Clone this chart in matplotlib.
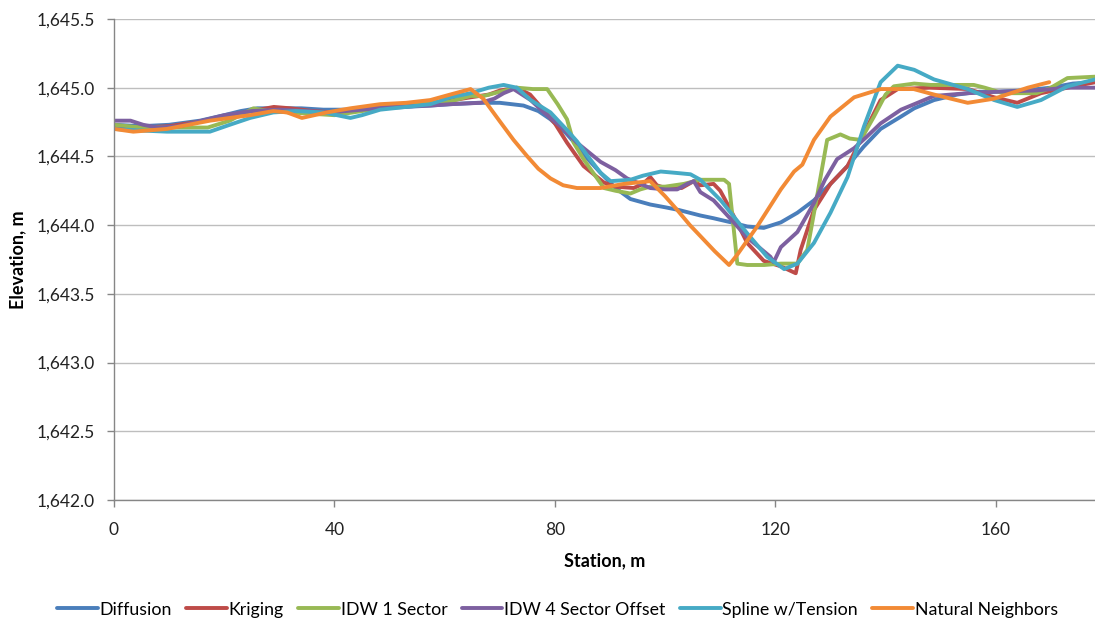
import matplotlib
matplotlib.use("Agg")
import matplotlib.pyplot as plt
from matplotlib.ticker import FuncFormatter, MultipleLocator

plt.rcParams['font.family'] = ['Lato', 'DejaVu Sans']

# station (m) / elevation (m) profiles for each interpolation method
diffusion_x = [0, 5, 10, 15.6, 20, 23, 26, 30, 34, 38, 43, 48, 53, 57.4, 61, 66, 70, 74.3, 77,
               79.2, 82, 84, 86, 88.3, 91, 93.7, 97.3, 100, 102.5, 106.4, 108.8, 112, 114.9,
               117.9, 121, 124, 127, 130, 133.1, 136, 139.1, 142.8, 145.2, 148.8, 153, 157,
               160, 165, 170, 174, 178]
diffusion_y = [1644.73, 1644.72, 1644.73, 1644.76, 1644.80, 1644.83, 1644.85, 1644.85, 1644.85,
               1644.84, 1644.84, 1644.85, 1644.86, 1644.87, 1644.88, 1644.89, 1644.89, 1644.87,
               1644.83, 1644.77, 1644.67, 1644.58, 1644.48, 1644.38, 1644.27, 1644.19, 1644.15,
               1644.13, 1644.11, 1644.07, 1644.05, 1644.02, 1643.99, 1643.98, 1644.02, 1644.09,
               1644.18, 1644.30, 1644.43, 1644.57, 1644.70, 1644.79, 1644.85, 1644.91, 1644.95,
               1644.97, 1644.97, 1644.98, 1645.00, 1645.03, 1645.04]

kriging_x = [0, 5, 10, 15, 20, 25, 29, 32, 36, 40, 45, 50, 55, 60, 64.7, 68, 70.1, 73.1, 75.5,
             77.9, 80, 82.2, 85.2, 88.9, 91, 94.3, 96, 97.3, 98.5, 100, 103, 105.2, 106.4,
             108.8, 110, 111.9, 114.9, 117.9, 121, 123.7, 124.6, 127, 130, 133.1, 136.1,
             139.1, 142.2, 148, 155, 159.7, 163.9, 168.2, 173, 178]
kriging_y = [1644.71, 1644.71, 1644.72, 1644.75, 1644.79, 1644.83, 1644.86, 1644.85, 1644.83,
             1644.82, 1644.85, 1644.87, 1644.88, 1644.90, 1644.93, 1644.95, 1644.98, 1645.00,
             1644.95, 1644.84, 1644.74, 1644.60, 1644.43, 1644.31, 1644.28, 1644.27, 1644.30,
             1644.35, 1644.29, 1644.27, 1644.27, 1644.32, 1644.29, 1644.30, 1644.25, 1644.11,
             1643.87, 1643.74, 1643.70, 1643.65, 1643.82, 1644.11, 1644.30, 1644.43, 1644.67,
             1644.91, 1644.99, 1645.00, 1644.99, 1644.93, 1644.89, 1644.96, 1645.00, 1645.04]

idw1_x = [0, 5, 10, 17, 21, 25.3, 28, 32, 36, 40, 45, 50, 55, 61, 64.7, 67.1, 70, 73.1, 76,
          78.6, 80.5, 82.2, 83.4, 85.2, 88.9, 91, 93.7, 95.5, 97.3, 100, 103.4, 106.4, 108.5,
          110.7, 111.6, 113.1, 114.9, 118, 121, 124, 125.8, 128.2, 129.4, 131.8, 133.5, 135.5,
          137.9, 140, 141.5, 145.2, 148.2, 156, 158, 161.3, 167.4, 170, 173, 178]
idw1_y = [1644.73, 1644.71, 1644.71, 1644.71, 1644.76, 1644.85, 1644.83, 1644.82, 1644.81,
          1644.80, 1644.83, 1644.86, 1644.88, 1644.90, 1644.94, 1644.94, 1644.97, 1645.00,
          1644.99, 1644.99, 1644.88, 1644.77, 1644.60, 1644.48, 1644.27, 1644.25, 1644.23,
          1644.26, 1644.28, 1644.28, 1644.30, 1644.33, 1644.33, 1644.33, 1644.30, 1643.72,
          1643.71, 1643.71, 1643.72, 1643.72, 1643.82, 1644.35, 1644.62, 1644.66, 1644.63,
          1644.62, 1644.79, 1644.95, 1645.01, 1645.03, 1645.02, 1645.02, 1645.00, 1644.96,
          1644.96, 1645.00, 1645.07, 1645.08]

idw4_x = [0, 3, 5.3, 8, 12, 16, 20, 25, 30, 35, 39, 45, 50, 57.4, 61, 66.5, 69, 70.7, 72.5,
          75.6, 78, 81, 84, 88.3, 91, 93.1, 97.3, 100, 102.2, 104, 105.2, 106.4, 108.8, 112,
          114.9, 117, 119.1, 119.7, 121, 124, 127, 129, 131.2, 134.3, 136.5, 139.1, 142.8,
          145.2, 148.8, 154.9, 160, 167.4, 173, 178]
idw4_y = [1644.76, 1644.76, 1644.73, 1644.71, 1644.72, 1644.76, 1644.80, 1644.83, 1644.84,
          1644.83, 1644.82, 1644.84, 1644.86, 1644.87, 1644.88, 1644.89, 1644.92, 1644.96,
          1644.99, 1644.91, 1644.82, 1644.72, 1644.60, 1644.46, 1644.40, 1644.34, 1644.27,
          1644.26, 1644.26, 1644.30, 1644.32, 1644.24, 1644.18, 1644.04, 1643.91, 1643.84,
          1643.77, 1643.73, 1643.84, 1643.95, 1644.16, 1644.33, 1644.48, 1644.56, 1644.64,
          1644.74, 1644.84, 1644.88, 1644.94, 1644.96, 1644.97, 1644.98, 1645.00, 1645.00]

spline_x = [0, 4, 9.6, 13, 17.4, 21, 24.7, 28.9, 33, 38, 42.9, 45, 48.3, 53, 57.4, 61, 64.7,
            68, 70.7, 73.1, 75.6, 79.2, 82, 84, 86, 88.3, 90.1, 93.7, 96, 99.2, 102, 104.6,
            106.4, 110.1, 114.9, 118.5, 121.6, 124, 127, 130, 133.1, 136.1, 139.1, 142.2,
            145.2, 148.8, 154.9, 159.7, 163.9, 168.2, 173, 178]
spline_y = [1644.70, 1644.69, 1644.68, 1644.68, 1644.68, 1644.73, 1644.78, 1644.82, 1644.83,
            1644.82, 1644.78, 1644.80, 1644.84, 1644.86, 1644.88, 1644.93, 1644.96, 1645.00,
            1645.02, 1645.00, 1644.91, 1644.82, 1644.70, 1644.61, 1644.50, 1644.38, 1644.32,
            1644.33, 1644.36, 1644.39, 1644.38, 1644.37, 1644.33, 1644.18, 1643.94, 1643.77,
            1643.68, 1643.72, 1643.87, 1644.09, 1644.35, 1644.72, 1645.04, 1645.16, 1645.13,
            1645.06, 1644.99, 1644.91, 1644.86, 1644.91, 1645.01, 1645.06]

natural_x = [0, 3.5, 9.6, 17.4, 24.7, 28.9, 31.4, 34.1, 38.6, 42.9, 48.3, 53, 57.4, 61, 64.7,
             67, 70.1, 72.5, 75, 77, 79.2, 81.5, 84, 88.3, 92.5, 97.3, 100, 102.2, 104.5,
             106.4, 109, 111.6, 113, 116.7, 121, 123.4, 124.9, 127, 130, 134.3, 139.1, 145.1,
             148.8, 154.9, 159.7, 165.8, 169.7]
natural_y = [1644.70, 1644.68, 1644.70, 1644.76, 1644.80, 1644.83, 1644.82, 1644.78, 1644.82,
             1644.85, 1644.88, 1644.89, 1644.91, 1644.95, 1644.99, 1644.92, 1644.75, 1644.62,
             1644.50, 1644.41, 1644.34, 1644.29, 1644.27, 1644.27, 1644.30, 1644.32, 1644.21,
             1644.11, 1644.00, 1643.92, 1643.81, 1643.71, 1643.78, 1643.99, 1644.26, 1644.39,
             1644.44, 1644.62, 1644.79, 1644.93, 1644.99, 1644.99, 1644.95, 1644.89, 1644.92,
             1645.00, 1645.04]

series = [
    ("Diffusion", diffusion_x, diffusion_y, "#4A7EBB"),
    ("Kriging", kriging_x, kriging_y, "#BE4B48"),
    ("IDW 1 Sector", idw1_x, idw1_y, "#98B954"),
    ("IDW 4 Sector Offset", idw4_x, idw4_y, "#7D60A0"),
    ("Spline w/Tension", spline_x, spline_y, "#46AAC5"),
    ("Natural Neighbors", natural_x, natural_y, "#F28A35"),
]

fig = plt.figure(figsize=(10.95, 6.24), dpi=100)
ax = fig.add_axes([0.1041, 0.1987, 0.8959, 0.7709])

for name, xs, ys, color in series:
    ax.plot(xs, ys, color=color, lw=2.8, label=name, solid_joinstyle='round',
            solid_capstyle='round')

ax.set_xlim(0, 178)
ax.set_ylim(1642.0, 1645.5)
ax.xaxis.set_major_locator(MultipleLocator(40))
ax.yaxis.set_major_locator(MultipleLocator(0.5))
ax.yaxis.set_major_formatter(FuncFormatter(lambda v, p: f"{v:,.1f}"))

ax.grid(axis='y', color='#BEBEBE', lw=1)
ax.set_axisbelow(True)
for side in ('top', 'right'):
    ax.spines[side].set_visible(False)
for side in ('left', 'bottom'):
    ax.spines[side].set_color('#868686')
    ax.spines[side].set_linewidth(1)
ax.tick_params(axis='both', colors='#868686', length=5, width=1, labelsize=12.5,
               labelcolor='#222222', direction='out')
ax.tick_params(axis='x', pad=11)
ax.tick_params(axis='y', pad=9)

ax.set_xlabel("Station, m", fontsize=13, fontweight='bold', labelpad=10)
ax.set_ylabel("Elevation, m", fontsize=13, fontweight='bold', labelpad=7)

fig.legend(loc='center', bbox_to_anchor=(0.509, 0.023), ncol=6, frameon=False,
           fontsize=12.8, handlelength=2.3, handletextpad=0.1, columnspacing=0.8)

fig.savefig("out.png", dpi=100)
